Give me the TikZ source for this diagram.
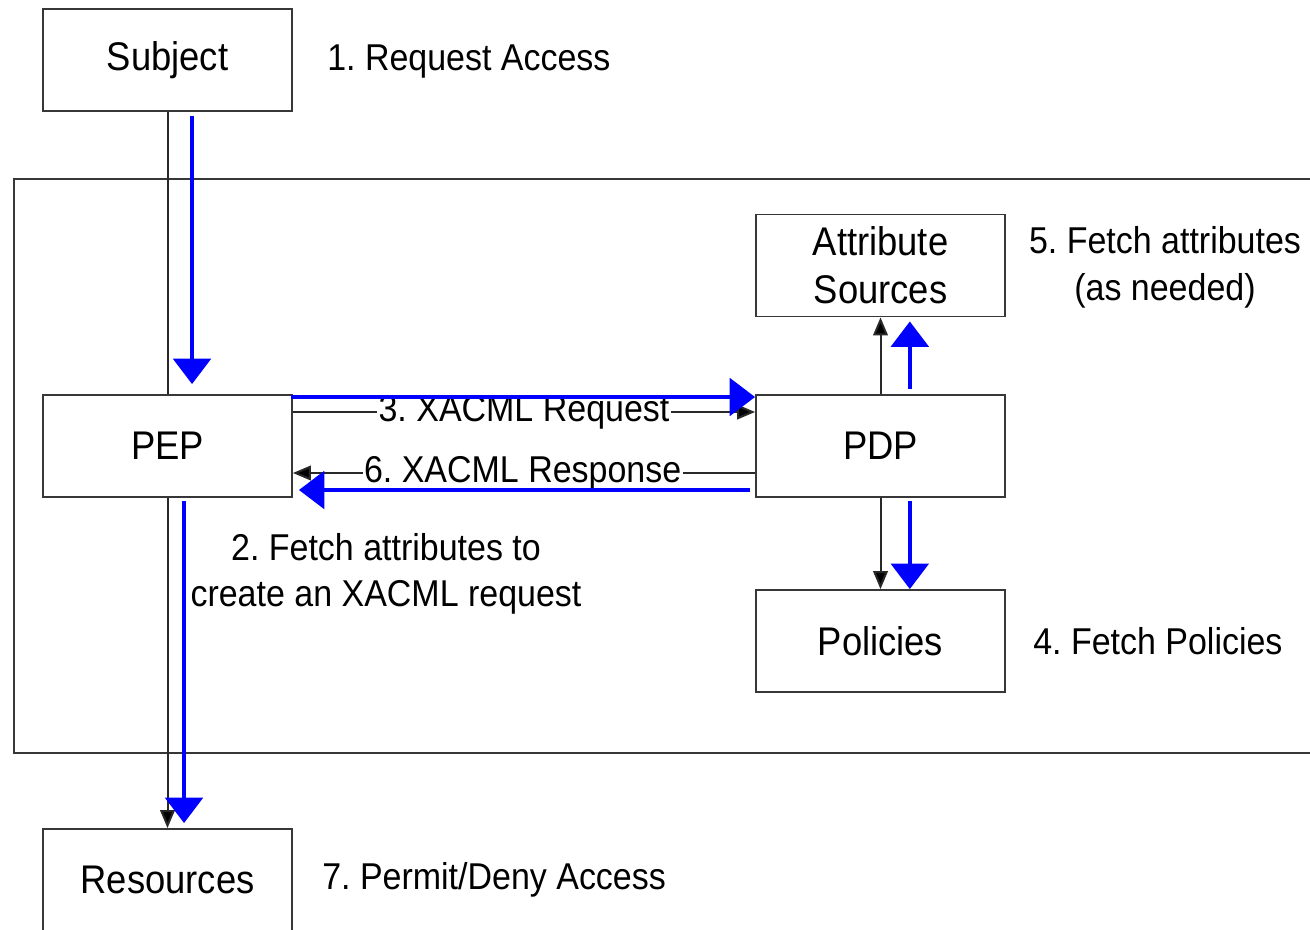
\documentclass[tikz,border=0pt]{standalone}
\usepackage{fontspec}
\setmainfont{Liberation Sans}[FakeStretch=0.91]
\usetikzlibrary{arrows.meta}
\definecolor{edgegray}{RGB}{55,55,55}
\definecolor{linegray}{RGB}{40,40,40}
\definecolor{flowblue}{RGB}{0,0,255}
\frenchspacing
\begin{document}
\begin{tikzpicture}[x=0.75pt,y=-0.75pt,
  entity/.style={draw=edgegray,line width=1.4pt,fill=white,minimum width=186.75pt,
    minimum height=76.5pt,inner sep=0pt,align=center,font=\fontsize{30}{36}\selectfont},
  note/.style={inner sep=0pt,align=center,font=\fontsize{28}{35}\selectfont},
  msg/.style={fill=white,inner sep=1pt,font=\fontsize{28}{35}\selectfont},
  plain/.style={draw=linegray,line width=1.5pt},
  thin/.style={plain,-{Triangle[length=13.5pt,width=11pt,fill=black]}},
  flow/.style={draw=flowblue,line width=3pt,-{Triangle[length=19pt,width=28pt]}}]
\useasboundingbox (0,0) rectangle (1310,929);

% trust domain
\draw[edgegray,line width=1.5pt] (1340,179) -- (14,179) -- (14,753) -- (1340,753);

% entities
\node[entity] (subject) at (167.5,60) {Subject};
\node[entity] (pep) at (167.5,446) {PEP};
\node[entity] (pdp) at (880.5,446) {PDP};
\node[entity] (attr) at (880.5,265.5) {Attribute\\Sources};
\node[entity] (pol) at (880.5,641) {Policies};
\node[entity] (res) at (167.5,880) {Resources};

% step annotations
\node[note,anchor=west] (n1) at (327,62) {1. Request Access};
\node[note] (n5) at (1165,267) {5. Fetch attributes\\(as needed)};
\node[note,anchor=west] (n4) at (1033,641) {4. Fetch Policies};
\node[note] (n2) at (386,574) {2. Fetch attributes to\\create an XACML request};
\node[note,anchor=west] (n7) at (322,880) {7. Permit/Deny Access};

% black message lines
\draw[plain] (subject.south) -- (pep.north);
\draw[thin] ([yshift=25.5pt]pep.east) -- node[msg] (m3) {3. XACML Request} ([yshift=25.5pt]pdp.west);
\draw[thin] ([yshift=-20.25pt]pdp.west) -- node[msg,xshift=-1pt] (m6) {6. XACML Response} ([yshift=-20.25pt]pep.east);
\draw[thin] (pdp.north) -- (attr.south);
\draw[thin] (pdp.south) -- (pol.north);
\draw[thin] (pep.south) -- (res.north);

% blue flow arrows
\draw[flow] ([xshift=18.4pt,yshift=-3pt]subject.south) -- ([xshift=18.4pt,yshift=7.5pt]pep.north);
\draw[flow] ([xshift=-1.5pt,yshift=36.75pt]pep.east) -- ([yshift=36.75pt]pdp.west);
\draw[flow] ([xshift=-3.75pt,yshift=-33pt]pdp.west) -- ([xshift=4.5pt,yshift=-33pt]pep.east);
\draw[flow] ([xshift=22pt,yshift=3.75pt]pdp.north) -- ([xshift=22pt,yshift=-3pt]attr.south);
\draw[flow] ([xshift=22pt,yshift=-2.25pt]pdp.south) -- ([xshift=22pt]pol.north);
\draw[flow] ([xshift=12.4pt,yshift=-2.25pt]pep.south) -- ([xshift=12.4pt,yshift=3.75pt]res.north);
\end{tikzpicture}
\end{document}
